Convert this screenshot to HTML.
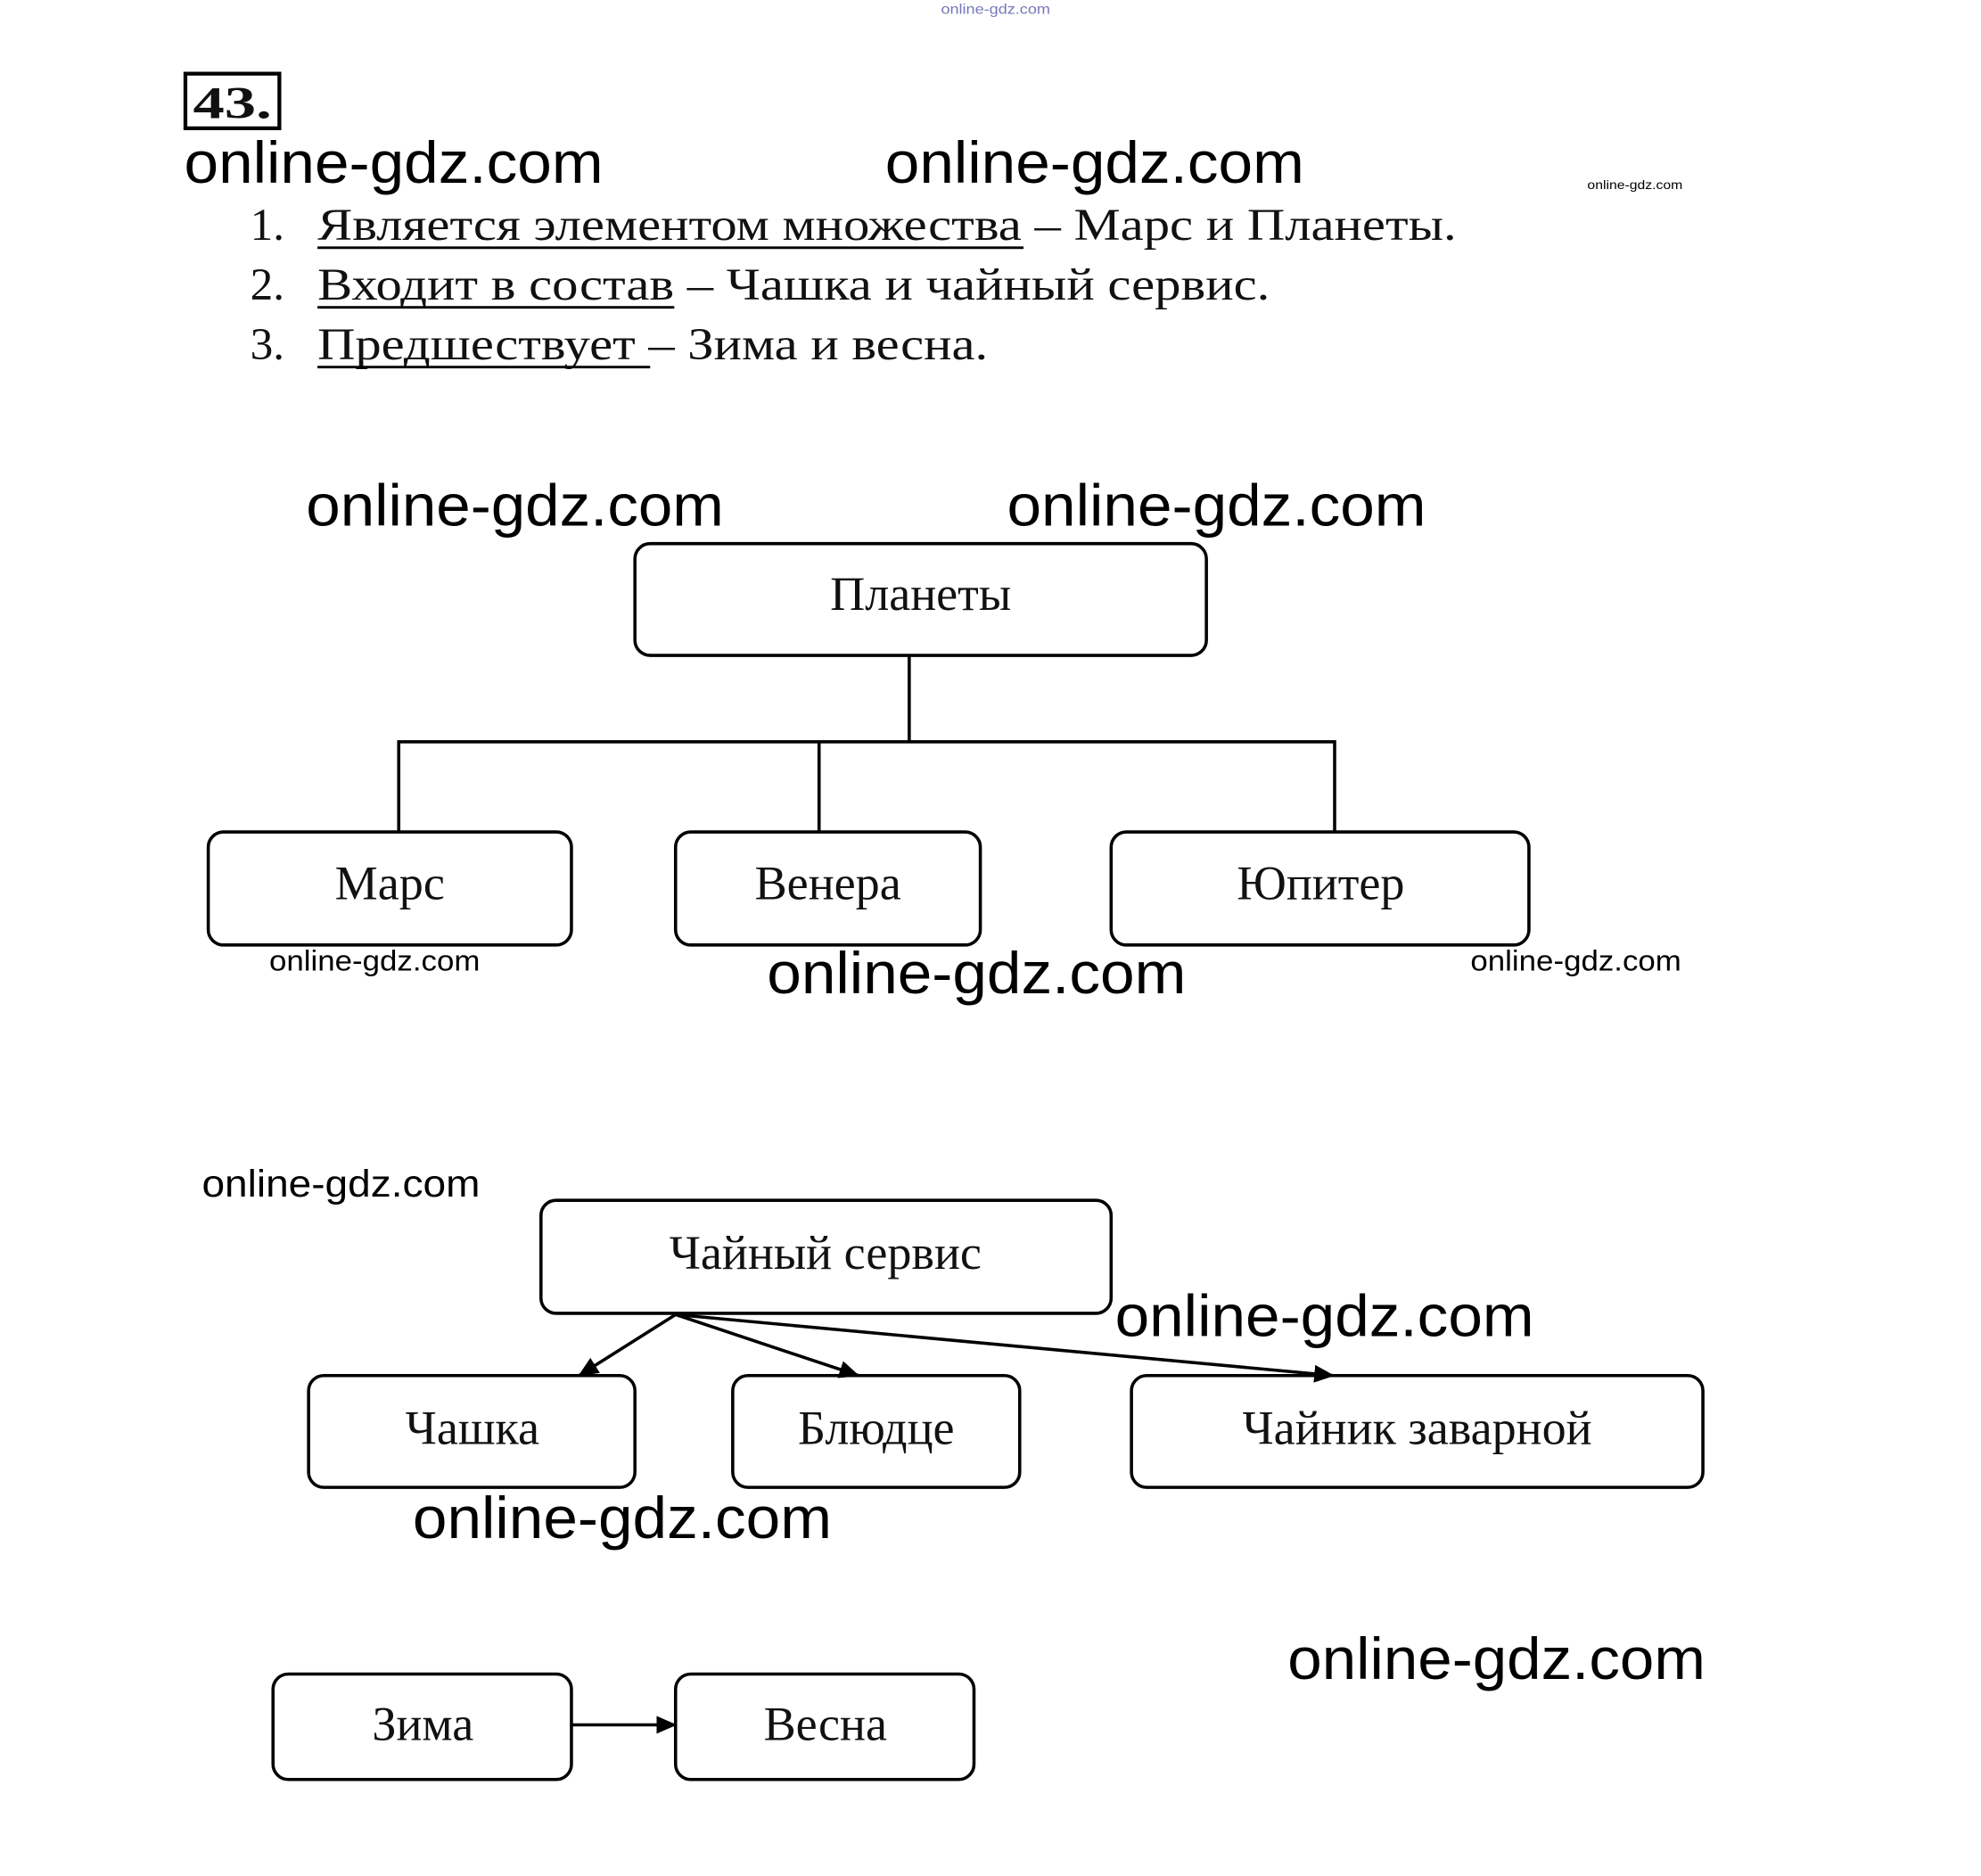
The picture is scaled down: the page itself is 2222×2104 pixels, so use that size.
<!DOCTYPE html>
<html><head><meta charset="utf-8"><style>
html,body{margin:0;padding:0;background:#fff;}
svg{display:block;}
.s{font-family:"Liberation Serif",serif;fill:#111;}
.w{font-family:"Liberation Sans",sans-serif;fill:#000;}
</style></head><body>
<svg width="2222" height="2104" viewBox="0 0 1560 1477" preserveAspectRatio="none" xmlns="http://www.w3.org/2000/svg">
<defs><marker id="a" markerWidth="16" markerHeight="14" refX="15" refY="7" orient="auto" markerUnits="userSpaceOnUse"><path d="M0,0 L16,7 L0,14 z" fill="#000"/></marker></defs>
<text x="741" y="11" class="w" font-size="11" style="fill:#77b" textLength="86" lengthAdjust="spacingAndGlyphs">online-gdz.com</text>
<rect x="146" y="58" width="74" height="43" fill="none" stroke="#000" stroke-width="3"/>
<text x="152" y="93" class="s" font-size="36" font-weight="bold" textLength="62" lengthAdjust="spacingAndGlyphs">43.</text>
<g class="w">
<text x="145" y="144" font-size="46" textLength="330" lengthAdjust="spacingAndGlyphs">online-gdz.com</text>
<text x="697" y="144" font-size="46" textLength="330" lengthAdjust="spacingAndGlyphs">online-gdz.com</text>
<text x="1250" y="149" font-size="10" textLength="75" lengthAdjust="spacingAndGlyphs">online-gdz.com</text>
<text x="241" y="414" font-size="46" textLength="329" lengthAdjust="spacingAndGlyphs">online-gdz.com</text>
<text x="793" y="414" font-size="46" textLength="330" lengthAdjust="spacingAndGlyphs">online-gdz.com</text>
<text x="212" y="764" font-size="23" textLength="166" lengthAdjust="spacingAndGlyphs">online-gdz.com</text>
<text x="1158" y="764" font-size="23" textLength="166" lengthAdjust="spacingAndGlyphs">online-gdz.com</text>
<text x="604" y="782" font-size="46" textLength="330" lengthAdjust="spacingAndGlyphs">online-gdz.com</text>
<text x="159" y="942" font-size="30" textLength="219" lengthAdjust="spacingAndGlyphs">online-gdz.com</text>
<text x="878" y="1052" font-size="46" textLength="330" lengthAdjust="spacingAndGlyphs">online-gdz.com</text>
<text x="325" y="1211" font-size="46" textLength="330" lengthAdjust="spacingAndGlyphs">online-gdz.com</text>
<text x="1014" y="1322" font-size="46" textLength="329" lengthAdjust="spacingAndGlyphs">online-gdz.com</text>
</g>
<g class="s" font-size="36">
<text x="197" y="189">1.</text>
<text x="250" y="189" textLength="897" lengthAdjust="spacingAndGlyphs">Является элементом множества – Марс и Планеты.</text>
<text x="197" y="236">2.</text>
<text x="250" y="236" textLength="750" lengthAdjust="spacingAndGlyphs">Входит в состав – Чашка и чайный сервис.</text>
<text x="197" y="283">3.</text>
<text x="250" y="283" textLength="528" lengthAdjust="spacingAndGlyphs">Предшествует – Зима и весна.</text>
</g>
<g stroke="#000" stroke-width="2">
<line x1="250" y1="195" x2="806" y2="195"/>
<line x1="250" y1="242" x2="531" y2="242"/>
<line x1="250" y1="289" x2="512" y2="289"/>
</g>
<g fill="none" stroke="#000" stroke-width="2.5">
<rect x="500" y="428" width="450" height="88" rx="12"/>
<rect x="164" y="655" width="286" height="89" rx="12"/>
<rect x="532" y="655" width="240" height="89" rx="12"/>
<rect x="875" y="655" width="329" height="89" rx="12"/>
<polyline points="716,516 716,584"/>
<polyline points="314,655 314,584 1051,584 1051,655"/>
<line x1="645" y1="584" x2="645" y2="655"/>
<rect x="426" y="945" width="449" height="89" rx="12"/>
<rect x="243" y="1083" width="257" height="88" rx="12"/>
<rect x="577" y="1083" width="226" height="88" rx="12"/>
<rect x="891" y="1083" width="450" height="88" rx="12"/>
<rect x="215" y="1318" width="235" height="83" rx="12"/>
<rect x="532" y="1318" width="235" height="83" rx="12"/>
<line x1="532" y1="1035" x2="456" y2="1083" marker-end="url(#a)"/>
<line x1="532" y1="1035" x2="676" y2="1083" marker-end="url(#a)"/>
<line x1="532" y1="1035" x2="1050" y2="1083" marker-end="url(#a)"/>
<line x1="450" y1="1358" x2="532" y2="1358" marker-end="url(#a)"/>
</g>
<g class="s" font-size="38" text-anchor="middle">
<text x="725" y="480">Планеты</text>
<text x="307" y="708">Марс</text>
<text x="652" y="708">Венера</text>
<text x="1040" y="708">Юпитер</text>
<text x="650" y="999">Чайный сервис</text>
<text x="372" y="1137">Чашка</text>
<text x="690" y="1137">Блюдце</text>
<text x="1116" y="1137">Чайник заварной</text>
<text x="333" y="1370">Зима</text>
<text x="650" y="1370">Весна</text>
</g>
</svg>
</body></html>
